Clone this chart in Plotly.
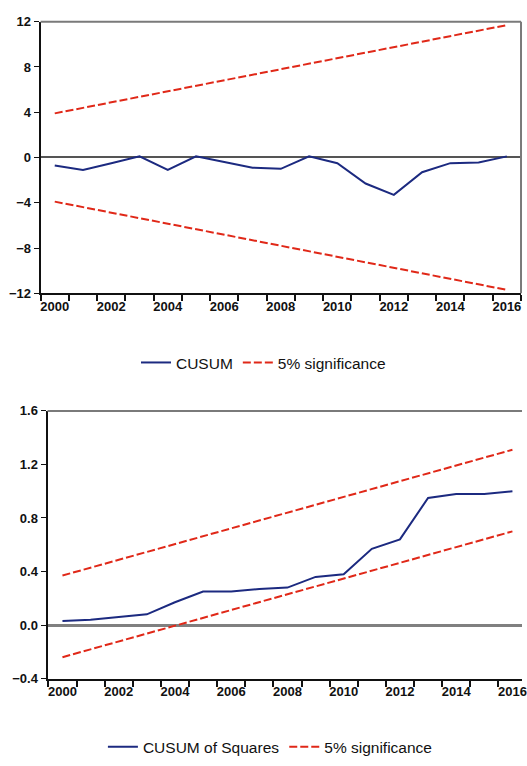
import plotly.graph_objects as go

years = list(range(2000, 2017))
cusum = [-0.7, -1.1, -0.5, 0.1, -1.1, 0.1, -0.4, -0.9, -1.0, 0.1, -0.5, -2.3, -3.3, -1.3, -0.5, -0.45, 0.1]
cusum_bound_years = [2000, 2016]
cusum_upper = [3.9, 11.7]
cusum_lower = [-3.9, -11.7]

cusumsq = [0.03, 0.04, 0.06, 0.08, 0.17, 0.25, 0.25, 0.27, 0.28, 0.36, 0.38, 0.57, 0.64, 0.95, 0.98, 0.98, 1.0]
sq_upper = [0.37, 1.31]
sq_lower = [-0.24, 0.70]

x_labels = [2000, 2002, 2004, 2006, 2008, 2010, 2012, 2014, 2016]
x_minor = [y + 0.5 for y in range(1999, 2017)]
top_yticks = [-12, -8, -4, 0, 4, 8, 12]
bot_yticks = [-0.4, 0.0, 0.4, 0.8, 1.2, 1.6]

BLUE = "#1c2a80"
RED = "#e02818"
W, H = 527, 766

fig = go.Figure()
fig.add_trace(go.Scatter(x=years, y=cusum, mode="lines", name="CUSUM",
                         line=dict(color=BLUE, width=2), xaxis="x", yaxis="y", legend="legend"))
fig.add_trace(go.Scatter(x=cusum_bound_years, y=cusum_upper, mode="lines", name="5% significance",
                         line=dict(color=RED, width=2, dash="8px,3px"), xaxis="x", yaxis="y", legend="legend"))
fig.add_trace(go.Scatter(x=cusum_bound_years, y=cusum_lower, mode="lines", name="5% significance",
                         showlegend=False, line=dict(color=RED, width=2, dash="8px,3px"), xaxis="x", yaxis="y"))

fig.add_trace(go.Scatter(x=years, y=cusumsq, mode="lines", name="CUSUM of Squares",
                         line=dict(color=BLUE, width=2), xaxis="x2", yaxis="y2", legend="legend2"))
fig.add_trace(go.Scatter(x=cusum_bound_years, y=sq_upper, mode="lines", name="5% significance",
                         line=dict(color=RED, width=2, dash="8px,3px"), xaxis="x2", yaxis="y2", legend="legend2"))
fig.add_trace(go.Scatter(x=cusum_bound_years, y=sq_lower, mode="lines", name="5% significance",
                         showlegend=False, line=dict(color=RED, width=2, dash="8px,3px"), xaxis="x2", yaxis="y2"))

tickfont = dict(family="Arial", size=13, color="#111111", weight="bold")

def xaxis_cfg(domain, anchor, rng):
    return dict(domain=domain, anchor=anchor, range=rng, tickmode="array",
                tickvals=x_labels, ticktext=[str(v) for v in x_labels], ticks="",
                showgrid=False, zeroline=False, showline=True, linecolor="#111111", linewidth=2,
                tickfont=tickfont, ticklabeloverflow="allow",
                minor=dict(tickmode="array", tickvals=x_minor, ticks="outside", ticklen=6,
                           tickcolor="#111111", tickwidth=1.5, showgrid=False))

legfont = dict(family="Arial", size=15.5, color="#111111")

fig.update_layout(
    width=W, height=H, margin=dict(l=0, r=0, t=0, b=0),
    paper_bgcolor="white", plot_bgcolor="white",
    xaxis=xaxis_cfg([41 / W, 526 / W], "y", [1999.5, 2016.5]),
    yaxis=dict(domain=[1 - 292 / H, 1 - 15 / H], anchor="x", range=[-12, 12],
               tickmode="array", tickvals=top_yticks, ticks="outside", ticklen=5,
               tickcolor="#111111", showgrid=False, showline=True, linecolor="#111111", linewidth=2,
               zeroline=True, zerolinecolor="#555555", zerolinewidth=2, tickfont=tickfont),
    xaxis2=xaxis_cfg([48 / W, 1.0], "y2", [1999.47, 2016.34]),
    yaxis2=dict(domain=[1 - 685 / H, 1 - 412 / H], anchor="x2", range=[-0.4, 1.6],
                tickmode="array", tickvals=bot_yticks, tickformat=".1f", ticks="outside", ticklen=5,
                tickcolor="#111111", showgrid=False, showline=True, linecolor="#111111", linewidth=2,
                zeroline=True, zerolinecolor="#808080", zerolinewidth=3, tickfont=tickfont),
    legend=dict(orientation="h", x=266 / W, xanchor="center", y=1 - 363 / H, yanchor="middle",
                font=legfont, bgcolor="rgba(0,0,0,0)", itemwidth=30),
    legend2=dict(orientation="h", x=273 / W, xanchor="center", y=1 - 755 / H, yanchor="middle",
                 font=legfont, bgcolor="rgba(0,0,0,0)", itemwidth=30),
    showlegend=True,
)

# frame lines (top and right) in gray
fig.add_shape(type="line", xref="x domain", yref="y domain", x0=0, x1=1, y0=1, y1=1,
              line=dict(color="#7a7a7a", width=2))
fig.add_shape(type="line", xref="x domain", yref="y domain", x0=1, x1=1, y0=0, y1=1,
              line=dict(color="#7a7a7a", width=2))
fig.add_shape(type="line", xref="x2 domain", yref="y2 domain", x0=0, x1=1, y0=1, y1=1,
              line=dict(color="#7a7a7a", width=2))

fig.write_html("out.html")
